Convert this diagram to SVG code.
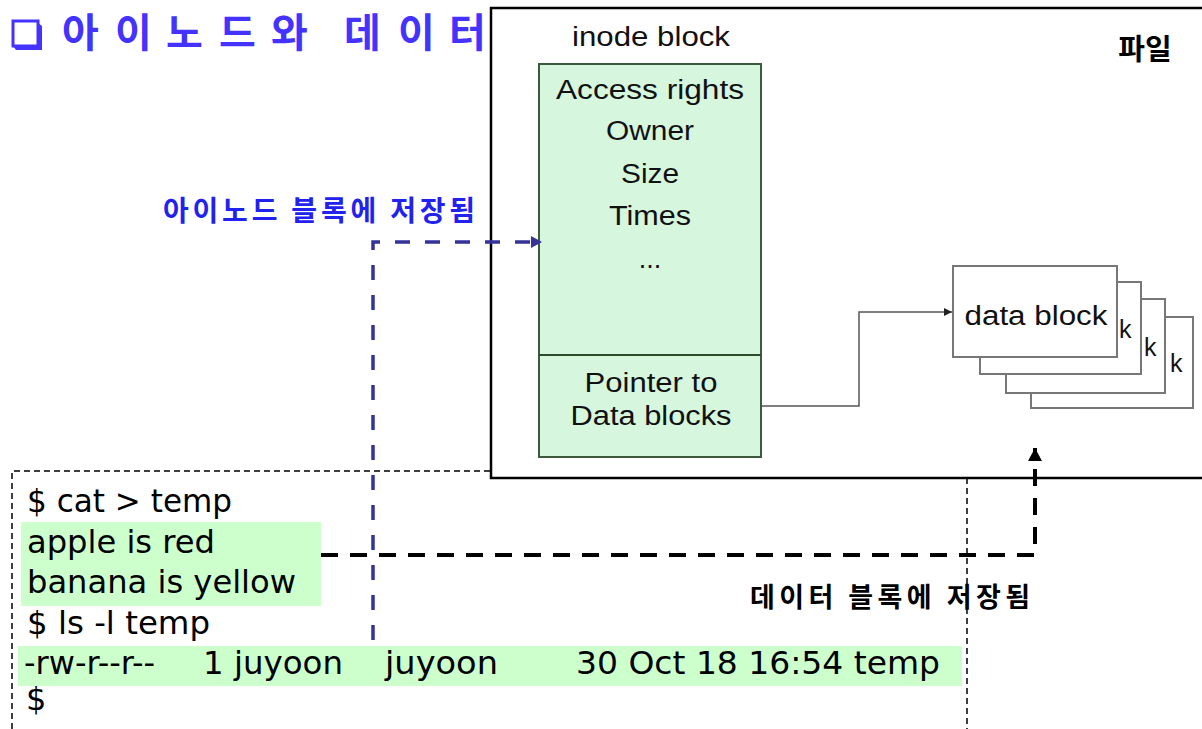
<svg xmlns="http://www.w3.org/2000/svg" width="1202" height="729" viewBox="0 0 1202 729">
<style>
.title{font-family:"Noto Sans CJK KR","Noto Sans",sans-serif;font-size:40px;font-weight:bold;fill:#4433ff}
.blue{font-family:"Noto Sans CJK KR",sans-serif;font-size:28px;font-weight:bold;fill:#2222ee}
.blk{font-family:"Noto Sans CJK KR",sans-serif;font-size:27px;font-weight:bold;fill:#000}
.ino{font-family:"Liberation Sans",Arial,sans-serif;font-size:27px;fill:#111;text-anchor:middle}
.term{font-family:"DejaVu Sans",sans-serif;font-size:32px;fill:#000}
.dbox{fill:#fff;stroke:#777;stroke-width:2}
.k{font-family:"Liberation Sans",Arial,sans-serif;font-size:25px;fill:#111}
</style>
<defs>
<marker id="ab" markerUnits="userSpaceOnUse" markerWidth="14" markerHeight="14" refX="11" refY="6" orient="auto"><path d="M0,0 L11,6 L0,12 z" fill="#333399"/></marker>
<marker id="ak" markerUnits="userSpaceOnUse" markerWidth="16" markerHeight="16" refX="13" refY="7" orient="auto"><path d="M0,0 L13,7 L0,14 z" fill="#000"/></marker>
<marker id="as" markerUnits="userSpaceOnUse" markerWidth="10" markerHeight="10" refX="8" refY="4" orient="auto"><path d="M0,0 L8,4 L0,8 z" fill="#222"/></marker>
</defs>
<rect width="1202" height="729" fill="#fff"/>

<g id="terminal">
<path d="M12,729 L12,471 L967,471 L967,729" fill="none" stroke="#000" stroke-width="1.5" stroke-dasharray="6 4"/>
<rect x="21" y="522" width="300" height="84" fill="#ccffcc"/>
<rect x="18" y="646" width="944" height="40" fill="#ccffcc"/>
<text class="term" x="27" y="512" textLength="205" lengthAdjust="spacingAndGlyphs">$ cat &gt; temp</text>
<text class="term" x="27" y="553" textLength="188" lengthAdjust="spacingAndGlyphs">apple is red</text>
<text class="term" x="27" y="593" textLength="269" lengthAdjust="spacingAndGlyphs">banana is yellow</text>
<text class="term" x="27" y="634" textLength="183" lengthAdjust="spacingAndGlyphs">$ ls -l temp</text>
<text class="term" x="24" y="674" textLength="131" lengthAdjust="spacingAndGlyphs">-rw-r--r--</text>
<text class="term" x="203" y="674" textLength="140" lengthAdjust="spacingAndGlyphs">1 juyoon</text>
<text class="term" x="385" y="674" textLength="113" lengthAdjust="spacingAndGlyphs">juyoon</text>
<text class="term" x="576" y="674" textLength="364" lengthAdjust="spacingAndGlyphs">30 Oct 18 16:54 temp</text>
<text class="term" x="26" y="710">$</text>
</g>

<g id="file">
<rect x="491" y="8" width="714" height="470" fill="#fff" stroke="#000" stroke-width="2.5"/>
<text x="1145" y="60" text-anchor="middle" style="font-family:'Noto Sans CJK KR',sans-serif;font-size:29px;font-weight:bold;fill:#000">파일</text>
</g>

<g id="title">
<rect x="13" y="21" width="25" height="25" fill="#fff" stroke="#4433ff" stroke-width="3"/>
<path d="M38,23 L42,26 L42,50 L16,50 L13,46 L38,46 Z" fill="#4433ff"/>
<text class="title" x="62 115 166 219 271 320 344 398 449" y="47">아이노드와 데이터</text>
</g>

<g id="inode">
<text class="ino" x="651" y="46" textLength="158" lengthAdjust="spacingAndGlyphs">inode block</text>
<rect x="539" y="64" width="222" height="393" fill="#d6f6dd" stroke="#3d5a3d" stroke-width="2"/>
<line x1="539" y1="355" x2="761" y2="355" stroke="#2d4a2d" stroke-width="2"/>
<text class="ino" x="650" y="99" textLength="188" lengthAdjust="spacingAndGlyphs">Access rights</text>
<text class="ino" x="650" y="140" textLength="88" lengthAdjust="spacingAndGlyphs">Owner</text>
<text class="ino" x="650" y="183" textLength="58" lengthAdjust="spacingAndGlyphs">Size</text>
<text class="ino" x="650" y="225" textLength="82" lengthAdjust="spacingAndGlyphs">Times</text>
<text class="ino" x="650" y="268">...</text>
<text class="ino" x="651" y="392" textLength="133" lengthAdjust="spacingAndGlyphs">Pointer to</text>
<text class="ino" x="651" y="425" textLength="161" lengthAdjust="spacingAndGlyphs">Data blocks</text>
</g>

<g id="datablocks">
<rect class="dbox" x="1031" y="317" width="162" height="91"/>
<rect class="dbox" x="1006" y="299" width="159" height="94"/>
<rect class="dbox" x="980" y="282" width="161" height="92"/>
<rect class="dbox" x="953" y="266" width="164" height="91"/>
<text class="ino" x="1036" y="325" textLength="143" lengthAdjust="spacingAndGlyphs">data block</text>
<text class="k" x="1119" y="338">k</text>
<text class="k" x="1144" y="356">k</text>
<text class="k" x="1170" y="372">k</text>
</g>

<g id="labels">
<text class="blue" x="163" y="221" textLength="312" lengthAdjust="spacing">아이노드 블록에 저장됨</text>
<text class="blk" x="750" y="607" textLength="280" lengthAdjust="spacing">데이터 블록에 저장됨</text>
</g>

<g id="connectors">
<path d="M762,406 L859,406 L859,312 L952,312" fill="none" stroke="#555" stroke-width="1.5" marker-end="url(#as)"/>
<path d="M373,640 L373,242 L542,242" fill="none" stroke="#333399" stroke-width="3.5" stroke-dasharray="15 15" marker-end="url(#ab)"/>
<path d="M321,555 L1035,555 L1035,448" fill="none" stroke="#000" stroke-width="4" stroke-dasharray="17 12" marker-end="url(#ak)"/>
</g>
</svg>
